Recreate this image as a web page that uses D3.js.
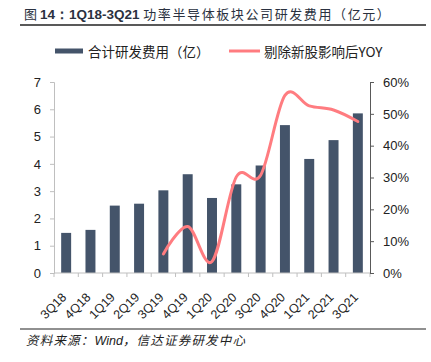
<!DOCTYPE html>
<html>
<head>
<meta charset="utf-8">
<script src="https://cdn.jsdelivr.net/npm/d3@7"></script>
<style>
  body { margin: 0; background: #fff; }
  svg { display: block; }
</style>
</head>
<body>
<div id="chart"></div>
<script>
// data
var quarters = ["3Q18", "4Q18", "1Q19", "2Q19", "3Q19", "4Q19", "1Q20", "2Q20", "3Q20", "4Q20", "1Q21", "2Q21", "3Q21"];
var rdCost = [1.47, 1.58, 2.47, 2.54, 3.03, 3.62, 2.75, 3.25, 3.94, 5.42, 4.18, 4.87, 5.85];
var yoy = [null, null, null, null, 0.06, 0.146, 0.036, 0.302, 0.307, 0.558, 0.525, 0.512, 0.476];
var leftTicks = [0, 1, 2, 3, 4, 5, 6, 7];
var rightTicks = [0, 0.1, 0.2, 0.3, 0.4, 0.5, 0.6];

var W = 431, H = 362;
var margin = {top: 82, right: 61, bottom: 89, left: 54},
    width = W - margin.left - margin.right,
    height = H - margin.top - margin.bottom;

var cjk = "'Noto Sans CJK SC', 'Liberation Sans', sans-serif";
var latin = "'Liberation Sans', Arial, sans-serif";

var root = d3.select("#chart")
    .append("svg")
    .attr("width", W)
    .attr("height", H);

// title + rule
var title = root.append("text")
    .attr("x", 24)
    .attr("y", 19)
    .style("font-size", "13px")
    .style("fill", "#2A3140");
title.append("tspan")
    .style("font-family", cjk)
    .text("图 ");
title.append("tspan")
    .style("font-family", latin)
    .style("font-weight", "bold")
    .style("font-size", "13.5px")
    .text("14：1Q18-3Q21 ");
title.append("tspan")
    .style("font-family", cjk)
    .style("letter-spacing", "1.6px")
    .text("功率半导体板块公司研发费用（亿元）");
root.append("line")
    .attr("x1", 20).attr("x2", 426)
    .attr("y1", 25).attr("y2", 25)
    .attr("stroke", "#222").attr("stroke-width", 1.5);

// legend
root.append("rect")
    .attr("x", 55).attr("y", 48.5).attr("width", 28).attr("height", 5)
    .attr("fill", "#44546A");
root.append("text")
    .attr("x", 88).attr("y", 56.5)
    .style("font-family", cjk).style("font-size", "13.5px").style("fill", "#222")
    .text("合计研发费用（亿）");
root.append("line")
    .attr("x1", 229).attr("x2", 260).attr("y1", 51).attr("y2", 51)
    .attr("stroke", "#FF7C80").attr("stroke-width", 3);
root.append("text")
    .attr("x", 264).attr("y", 56.5)
    .style("font-family", cjk).style("font-size", "13.5px").style("fill", "#222")
    .text("剔除新股影响后YOY");

var svg = root.append("g")
    .attr("transform", "translate(" + margin.left + "," + margin.top + ")");

var x = d3.scaleBand()
    .domain(quarters)
    .range([0, width])
    .paddingInner(0.59)
    .paddingOuter(0.295);

var y = d3.scaleLinear().domain([0, 7]).range([height, 0]);
var y2 = d3.scaleLinear().domain([0, 0.6]).range([height, 0]);

// bars
svg.selectAll(".bar")
    .data(quarters)
    .enter()
    .append("rect")
    .attr("class", "bar")
    .attr("x", function (d) { return x(d); })
    .attr("width", x.bandwidth())
    .attr("y", function (d, i) { return y(rdCost[i]); })
    .attr("height", function (d, i) { return height - y(rdCost[i]); })
    .attr("fill", "#44546A");

// x axis
var step = width / quarters.length;
var xAxis = svg.append("g")
    .attr("transform", "translate(0," + height + ")");
xAxis.append("line")
    .attr("x1", 0).attr("x2", width)
    .attr("stroke", "#BFBFBF");
xAxis.selectAll(".tk")
    .data(d3.range(quarters.length + 1))
    .enter()
    .append("line")
    .attr("x1", function (d) { return d * step; })
    .attr("x2", function (d) { return d * step; })
    .attr("y1", 0).attr("y2", 4)
    .attr("stroke", "#BFBFBF");
xAxis.selectAll(".lbl")
    .data(quarters)
    .enter()
    .append("text")
    .attr("text-anchor", "end")
    .attr("transform", function (d) {
        return "translate(" + (x(d) + x.bandwidth() / 2 + 1) + ",25) rotate(-45)";
    })
    .style("font-family", latin)
    .style("font-size", "12.5px")
    .style("fill", "#222")
    .text(function (d) { return d; });

// left axis
var left = svg.append("g")
    .call(d3.axisLeft(y).tickValues(leftTicks).tickSize(4).tickPadding(9)
        .tickFormat(d3.format("d")));
left.select(".domain").attr("stroke", "#BFBFBF");
left.selectAll(".tick line").attr("stroke", "#BFBFBF");
left.selectAll("text")
    .style("font-family", latin).style("font-size", "13px").style("fill", "#222");

// right axis
var right = svg.append("g")
    .attr("transform", "translate(" + width + ",0)")
    .call(d3.axisRight(y2).tickValues(rightTicks).tickSize(4).tickPadding(9)
        .tickFormat(d3.format(".0%")));
right.select(".domain").attr("stroke", "#595959");
right.selectAll(".tick line").attr("stroke", "#595959");
right.selectAll("text")
    .style("font-family", latin).style("font-size", "13px").style("fill", "#222");

// smoothed yoy line
var pts = quarters.map(function (q, i) { return [q, yoy[i]]; })
    .filter(function (d) { return d[1] !== null; });
svg.append("path")
    .datum(pts)
    .attr("fill", "none")
    .attr("stroke", "#FF7C80")
    .attr("stroke-width", 3)
    .attr("stroke-linecap", "round")
    .attr("d", d3.line()
        .curve(d3.curveCardinal.tension(0))
        .x(function (d) { return x(d[0]) + x.bandwidth() / 2; })
        .y(function (d) { return y2(d[1]); }));

// footer
root.append("line")
    .attr("x1", 20).attr("x2", 426)
    .attr("y1", 329).attr("y2", 329)
    .attr("stroke", "#222").attr("stroke-width", 1.2);
var foot = root.append("text")
    .attr("x", 26).attr("y", 345)
    .style("font-family", cjk)
    .style("font-style", "italic")
    .style("font-size", "12.5px")
    .style("letter-spacing", "1.2px")
    .style("fill", "#222");
foot.append("tspan").text("资料来源：");
foot.append("tspan").style("font-family", latin).style("letter-spacing", "0px").text("Wind");
foot.append("tspan").text("，信达证券研发中心");
</script>
</body>
</html>
